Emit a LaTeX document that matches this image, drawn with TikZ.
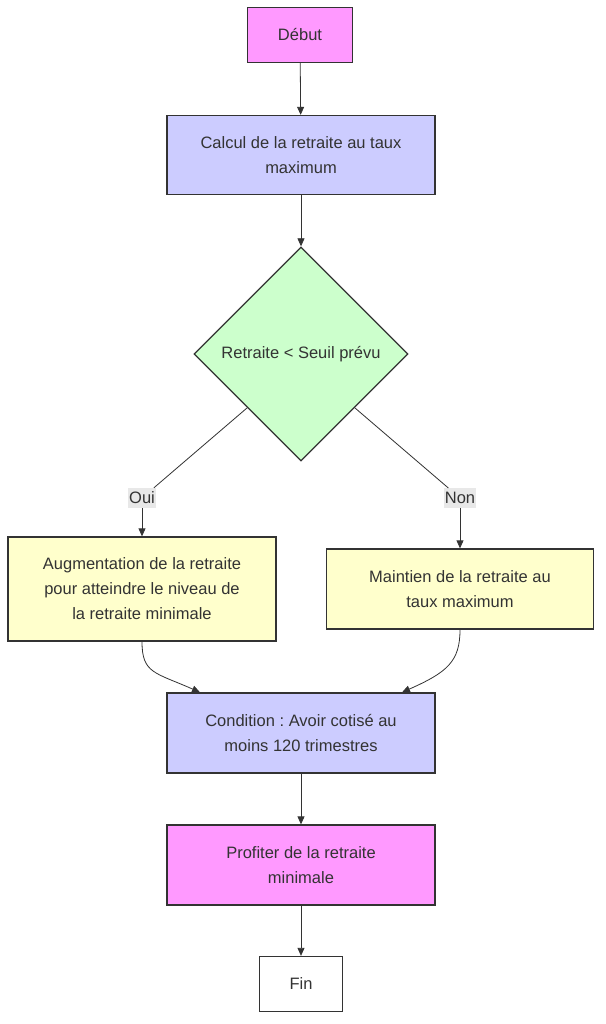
\documentclass[tikz,border=0pt]{standalone}
\usepackage{fontspec}
\setmainfont{Liberation Sans}
\usetikzlibrary{shapes.geometric,arrows.meta}
\definecolor{rim}{HTML}{333333}
\definecolor{pinkbox}{HTML}{FF99FF}
\definecolor{bluebox}{HTML}{CCCCFF}
\definecolor{greenbox}{HTML}{CCFFCC}
\definecolor{yellowbox}{HTML}{FFFFCC}
\definecolor{tagbg}{HTML}{E8E8E8}
\frenchspacing

\begin{document}
\begin{tikzpicture}[x=1pt,y=-1pt,
    box/.style={draw=rim, line width=1.3pt, text=rim, align=center, inner sep=0pt,
        font=\fontsize{16.5}{25}\selectfont},
    arr/.style={draw=rim, line width=0.8pt, -{Triangle[length=8pt,width=7pt]}},
    tag/.style={fill=tagbg, text=rim, inner xsep=1pt, inner ysep=4pt, font=\fontsize{16.5}{18}\selectfont}]
    \useasboundingbox (0,0) rectangle (605,1024);

    \node[box, fill=pinkbox, minimum width=105pt, minimum height=55pt] (start) at (300,35) {Début};
    \node[box, fill=bluebox, minimum width=268pt, minimum height=79pt] (calc) at (301,155) {Calcul de la retraite au taux\\maximum};
    \node[box, diamond, aspect=1, fill=greenbox, minimum width=214pt, minimum height=214pt] (test) at (301,354) {Retraite < Seuil prévu};
    \node[box, fill=yellowbox, minimum width=268pt, minimum height=104pt] (aug) at (142,589) {Augmentation de la retraite\\pour atteindre le niveau de\\la retraite minimale};
    \node[box, fill=yellowbox, minimum width=267pt, minimum height=80pt] (keep) at (460,589) {Maintien de la retraite au\\taux maximum};
    \node[box, fill=bluebox, minimum width=268pt, minimum height=80pt] (cond) at (301,733) {Condition : Avoir cotisé au\\moins 120 trimestres};
    \node[box, fill=pinkbox, minimum width=268pt, minimum height=80pt] (prof) at (301,865) {Profiter de la retraite\\minimale};
    \node[box, fill=white, minimum width=83pt, minimum height=55pt] (fin) at (301,984) {Fin};

    \node[tag] (oui) at (142,498) {Oui};
    \node[tag] (non) at (460,498) {Non};

    \draw[arr] (start) -- (calc);
    \draw[arr] (calc) -- (test);
    \draw[draw=rim, line width=0.8pt] (test.south west) -- (oui);
    \draw[draw=rim, line width=0.8pt] (test.south east) -- (non);
    \draw[arr] (oui) -- (aug);
    \draw[arr] (non) -- (keep);
    \draw[arr] (aug.south) .. controls +(0,32) and +(-45,-20) .. ([xshift=-101pt]cond.north);
    \draw[arr] (keep.south) .. controls +(0,32) and +(45,-20) .. ([xshift=101pt]cond.north);
    \draw[arr] (cond) -- (prof);
    \draw[arr] (prof) -- (fin);
\end{tikzpicture}
\end{document}
